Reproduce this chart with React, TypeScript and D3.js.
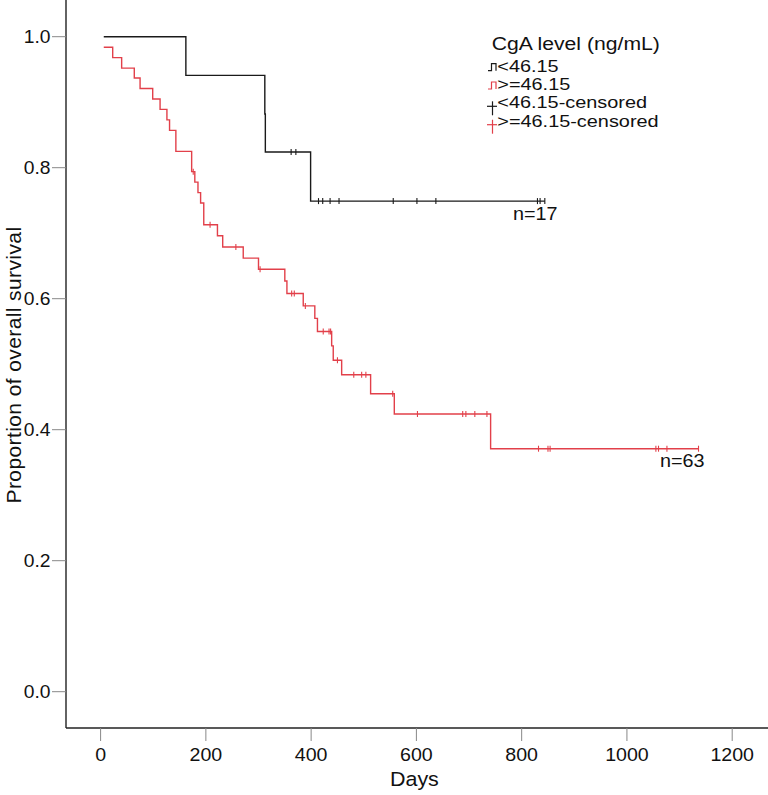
import React from "react";
import * as d3 from "d3";

// ---- Data ----
const xTicks = [0, 200, 400, 600, 800, 1000, 1200];
const yTicks = [0.0, 0.2, 0.4, 0.6, 0.8, 1.0];

// Group <46.15 (n=17): step times (days) and survival after each step
const lowTimes = [6, 162, 312, 313, 399];
const lowSurv = [1.0, 0.941, 0.882, 0.824, 0.749];
const lowEnd = 844;
const lowCensored = [362, 371, 414, 422, 436, 453, 556, 601, 637, 830, 835, 844];

// Group >=46.15 (n=63)
const highTimes = [6, 23, 40, 64, 75, 99, 113, 126, 131, 143, 173, 179, 185, 190, 196, 222, 232, 271, 300, 350, 354, 385, 407, 412, 439, 442, 458, 513, 558, 741];
const highSurv = [0.984, 0.968, 0.952, 0.937, 0.921, 0.905, 0.889, 0.873, 0.857, 0.825, 0.794, 0.778, 0.762, 0.746, 0.713, 0.696, 0.679, 0.662, 0.645, 0.627, 0.608, 0.589, 0.57, 0.55, 0.528, 0.506, 0.484, 0.455, 0.424, 0.371];
const highEnd = 1136;
const highCensored = [176, 208, 257, 303, 363, 368, 389, 423, 434, 437, 450, 481, 496, 504, 555, 602, 688, 694, 711, 734, 832, 850, 854, 1055, 1060, 1076, 1136];

const legendTitle = "CgA level (ng/mL)";
const legendLabels = ["<46.15", ">=46.15", "<46.15-censored", ">=46.15-censored"];
const groupLabels = ["n=17", "n=63"];

const BLACK = "#1a1a1a";
const RED = "#e2404a";
const FONT = "'Liberation Sans', Arial, sans-serif";

type TProps = {
  x: number;
  y: number;
  size: number;
  sx?: number;
  anchor?: "start" | "middle" | "end";
  dy?: string;
  children: React.ReactNode;
};
function SText({ x, y, size, sx = 1, anchor = "start", dy, children }: TProps) {
  return (
    <g transform={`translate(${x},${y}) scale(${sx},1)`}>
      <text x={0} y={0} dy={dy} fontSize={size} textAnchor={anchor} fill="#111">
        {children}
      </text>
    </g>
  );
}

export default function App() {
  const W = 768;
  const H = 795;
  const x = d3.scaleLinear().domain([0, 1200]).range([100.6, 732.2]);
  const y = d3.scaleLinear().domain([0, 1]).range([691.7, 36.7]);
  const axisX = 66;
  const axisY = 728;

  const stepLine = d3
    .line<[number, number]>()
    .x((d) => x(d[0]))
    .y((d) => y(d[1]))
    .curve(d3.curveStepAfter);

  const pts = (times: number[], surv: number[], end: number): [number, number][] => {
    const p: [number, number][] = times.map((t, i) => [t, surv[i]]);
    p.push([end, surv[surv.length - 1]]);
    return p;
  };
  const survAt = (times: number[], surv: number[], t: number) => {
    let s = surv[0];
    for (let i = 0; i < times.length; i++) if (times[i] <= t) s = surv[i];
    return s;
  };

  const groups = [
    { times: lowTimes, surv: lowSurv, end: lowEnd, cens: lowCensored, color: BLACK },
    { times: highTimes, surv: highSurv, end: highEnd, cens: highCensored, color: RED },
  ];

  const legendX = 488;
  const legendBase = [71.7, 90, 108.3, 126.7];
  const legendColors = [BLACK, RED, BLACK, RED];

  return (
    <svg
      width={W}
      height={H}
      style={{ position: "absolute", left: 0, top: 0, background: "#fff" }}
      fontFamily={FONT}
    >
      <rect x={0} y={0} width={W} height={H} fill="#fff" />
      {/* axes */}
      <line x1={axisX} y1={0} x2={axisX} y2={axisY} stroke="#222" strokeWidth={1.4} />
      <line x1={axisX} y1={axisY} x2={W} y2={axisY} stroke="#222" strokeWidth={1.4} />
      {yTicks.map((t) => (
        <g key={"y" + t}>
          <line x1={52} x2={axisX} y1={y(t)} y2={y(t)} stroke="#888" strokeWidth={1} />
          <SText x={50.5} y={y(t)} dy="0.36em" size={17.5} sx={1.1} anchor="end">
            {t.toFixed(1)}
          </SText>
        </g>
      ))}
      {xTicks.map((t) => (
        <g key={"x" + t}>
          <line x1={x(t)} x2={x(t)} y1={axisY} y2={axisY + 13} stroke="#888" strokeWidth={1} />
          <SText x={x(t)} y={761} size={18} sx={1.09} anchor="middle">
            {t}
          </SText>
        </g>
      ))}
      <SText x={x(600) - 2} y={786} size={19.5} sx={1.1} anchor="middle">
        Days
      </SText>
      <g transform={`translate(21,365) rotate(-90)`}>
        <text x={0} y={0} textAnchor="middle" fontSize={21} letterSpacing={0.4} fill="#111">
          Proportion of overall survival
        </text>
      </g>

      {/* curves */}
      {groups.map((g, gi) => (
        <g key={"g" + gi}>
          <path d={stepLine(pts(g.times, g.surv, g.end)) || ""} fill="none" stroke={g.color} strokeWidth={1.4} />
          {g.cens.map((c, ci) => {
            const cy = y(survAt(g.times, g.surv, c));
            return <line key={ci} x1={x(c)} x2={x(c)} y1={cy - 3} y2={cy + 3} stroke={g.color} strokeWidth={1.1} />;
          })}
        </g>
      ))}

      <SText x={513} y={220} size={18} sx={1.1}>
        {groupLabels[0]}
      </SText>
      <SText x={660} y={466.7} size={18} sx={1.1}>
        {groupLabels[1]}
      </SText>

      {/* legend */}
      <SText x={491.7} y={50} size={17.5} sx={1.21}>
        {legendTitle}
      </SText>
      {legendLabels.map((lab, i) => {
        const b = legendBase[i];
        const col = legendColors[i];
        return (
          <g key={"l" + i}>
            {i < 2 ? (
              <path
                d={`M${legendX},${b - 1} H${legendX + 3.5} V${b - 8} H${legendX + 8} V${b - 1}`}
                fill="none"
                stroke={col}
                strokeWidth={1.2}
              />
            ) : (
              <g stroke={col} strokeWidth={1.2}>
                <line x1={legendX - 1} x2={legendX + 9} y1={b - 2} y2={b - 2} />
                <line x1={legendX + 4.5} x2={legendX + 4.5} y1={b - 7} y2={b + 7} />
              </g>
            )}
            <SText x={497.3} y={b} size={16.3} sx={1.22}>
              {lab}
            </SText>
          </g>
        );
      })}
    </svg>
  );
}
